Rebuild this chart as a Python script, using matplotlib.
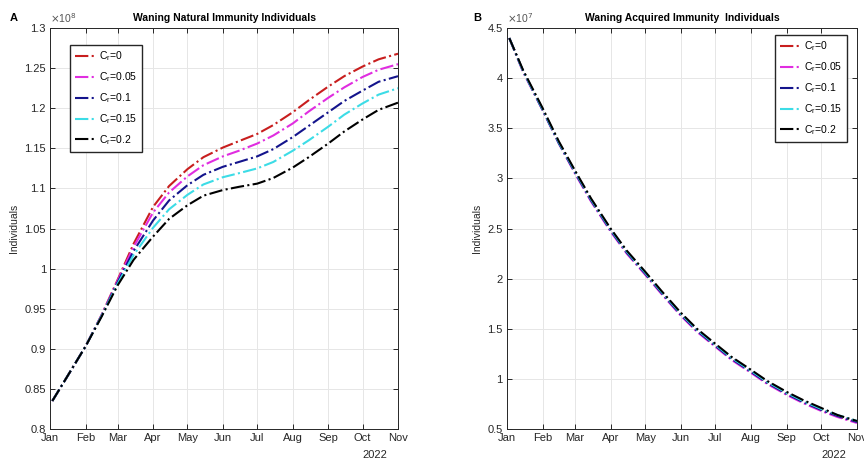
import numpy as np
import matplotlib.pyplot as plt
import matplotlib.dates as mdates
from datetime import date

plt.rcParams['font.family'] = ['Liberation Sans', 'DejaVu Sans']

# sample dates (roughly twice a month)
dates = [date(2022, 1, 3), date(2022, 1, 15), date(2022, 2, 1), date(2022, 2, 15),
         date(2022, 3, 1), date(2022, 3, 15), date(2022, 4, 1), date(2022, 4, 15),
         date(2022, 5, 1), date(2022, 5, 15), date(2022, 6, 1), date(2022, 6, 15),
         date(2022, 7, 1), date(2022, 7, 15), date(2022, 8, 1), date(2022, 8, 15),
         date(2022, 9, 1), date(2022, 9, 15), date(2022, 10, 1), date(2022, 10, 15),
         date(2022, 11, 1)]

cr_labels = ['C$_\\mathregular{r}$=0', 'C$_\\mathregular{r}$=0.05', 'C$_\\mathregular{r}$=0.1',
             'C$_\\mathregular{r}$=0.15', 'C$_\\mathregular{r}$=0.2']
colors = ['#c81e1e', '#e02de0', '#14148c', '#3cdce6', '#000000']

# waning natural immunity (x 1e8)
natural = [
    [.835, .863, .903, .942, .986, 1.031, 1.077, 1.103, 1.124, 1.139, 1.151, 1.159, 1.168, 1.179, 1.195, 1.210, 1.227, 1.240, 1.252, 1.261, 1.268],
    [.835, .863, .903, .942, .985, 1.027, 1.070, 1.095, 1.115, 1.129, 1.140, 1.147, 1.156, 1.166, 1.181, 1.196, 1.213, 1.226, 1.239, 1.248, 1.255],
    [.835, .863, .903, .941, .983, 1.022, 1.060, 1.085, 1.104, 1.117, 1.127, 1.133, 1.140, 1.149, 1.164, 1.178, 1.195, 1.209, 1.222, 1.233, 1.240],
    [.835, .863, .903, .941, .981, 1.017, 1.051, 1.074, 1.092, 1.105, 1.114, 1.119, 1.125, 1.133, 1.147, 1.160, 1.177, 1.192, 1.206, 1.217, 1.225],
    [.835, .863, .903, .940, .979, 1.011, 1.040, 1.062, 1.079, 1.091, 1.098, 1.102, 1.106, 1.113, 1.126, 1.139, 1.156, 1.171, 1.186, 1.198, 1.207],
]

# waning acquired immunity (x 1e7)
acquired = [
    [4.40, 4.07, 3.69, 3.36, 3.07, 2.79, 2.49, 2.27, 2.06, 1.87, 1.65, 1.49, 1.34, 1.21, 1.08, 0.97, 0.86, 0.78, 0.70, 0.63, 0.57],
    [4.40, 4.06, 3.68, 3.35, 3.05, 2.77, 2.47, 2.25, 2.04, 1.85, 1.63, 1.47, 1.32, 1.19, 1.06, 0.95, 0.84, 0.76, 0.68, 0.62, 0.56],
    [4.40, 4.07, 3.68, 3.35, 3.06, 2.78, 2.48, 2.26, 2.05, 1.86, 1.64, 1.48, 1.33, 1.20, 1.07, 0.96, 0.85, 0.77, 0.69, 0.63, 0.57],
    [4.40, 4.07, 3.69, 3.36, 3.07, 2.79, 2.49, 2.27, 2.06, 1.87, 1.65, 1.49, 1.34, 1.21, 1.08, 0.97, 0.86, 0.78, 0.70, 0.64, 0.58],
    [4.40, 4.08, 3.70, 3.37, 3.08, 2.80, 2.50, 2.28, 2.07, 1.88, 1.66, 1.50, 1.35, 1.22, 1.09, 0.98, 0.87, 0.79, 0.71, 0.64, 0.58],
]

tick_color = '#262626'

fig = plt.figure(figsize=(8.64, 4.63), dpi=100)
ax1 = fig.add_axes([0.0579, 0.0734, 0.4028, 0.866])
ax2 = fig.add_axes([0.5868, 0.0734, 0.4051, 0.866])


def style_axis(ax, yticks, ylim):
    ax.set_xlim(date(2022, 1, 1), date(2022, 11, 1))
    ax.set_ylim(*ylim)
    ax.xaxis.set_major_locator(mdates.MonthLocator())
    ax.xaxis.set_major_formatter(mdates.DateFormatter('%b'))
    ax.set_yticks(yticks)
    ax.set_yticklabels(['%g' % t for t in yticks])
    ax.grid(True, color='#e6e6e6', linewidth=0.7)
    ax.set_axisbelow(True)
    ax.tick_params(direction='in', length=3.5, width=0.7, top=True, right=True,
                   labelsize=8, colors=tick_color, pad=3)
    for s in ax.spines.values():
        s.set_color(tick_color)
        s.set_linewidth(0.7)
    ax.set_ylabel('Individuals', fontsize=7.5, color=tick_color, labelpad=4)
    ax.text(0.934, -0.066, '2022', transform=ax.transAxes, ha='center', va='center',
            fontsize=8, color=tick_color)


def draw_legend(ax, loc, anchor):
    ax.legend(loc=loc, bbox_to_anchor=anchor, borderaxespad=0, fontsize=7.5,
              handlelength=2.1, handletextpad=0.25, labelspacing=0.68, borderpad=0.45,
              fancybox=False, edgecolor=tick_color, framealpha=1)


for vals, c, lab in zip(natural, colors, cr_labels):
    ax1.plot(dates, vals, color=c, linestyle='-.', linewidth=1.5, label=lab)
style_axis(ax1, [0.8, 0.85, 0.9, 0.95, 1.0, 1.05, 1.1, 1.15, 1.2, 1.25, 1.3], (0.8, 1.3))
ax1.set_title('Waning Natural Immunity Individuals', fontsize=7.5, fontweight='bold', pad=5)
ax1.text(0.0, 1.008, '$\\times$10$^8$', transform=ax1.transAxes, ha='left', va='bottom',
         fontsize=7.5, color='#555555')
draw_legend(ax1, 'upper left', (0.057, 0.958))
fig.text(0.011, 0.955, 'A', fontsize=8, fontweight='bold')

for vals, c, lab in zip(acquired, colors, cr_labels):
    ax2.plot(dates, vals, color=c, linestyle='-.', linewidth=1.5, label=lab)
style_axis(ax2, [0.5, 1, 1.5, 2, 2.5, 3, 3.5, 4, 4.5], (0.5, 4.5))
ax2.set_title('Waning Acquired Immunity  Individuals', fontsize=7.5, fontweight='bold', pad=5)
ax2.text(0.0, 1.008, '$\\times$10$^7$', transform=ax2.transAxes, ha='left', va='bottom',
         fontsize=7.5, color='#555555')
draw_legend(ax2, 'upper right', (0.971, 0.983))
fig.text(0.548, 0.955, 'B', fontsize=8, fontweight='bold')

fig.savefig('out.png', dpi=100)
